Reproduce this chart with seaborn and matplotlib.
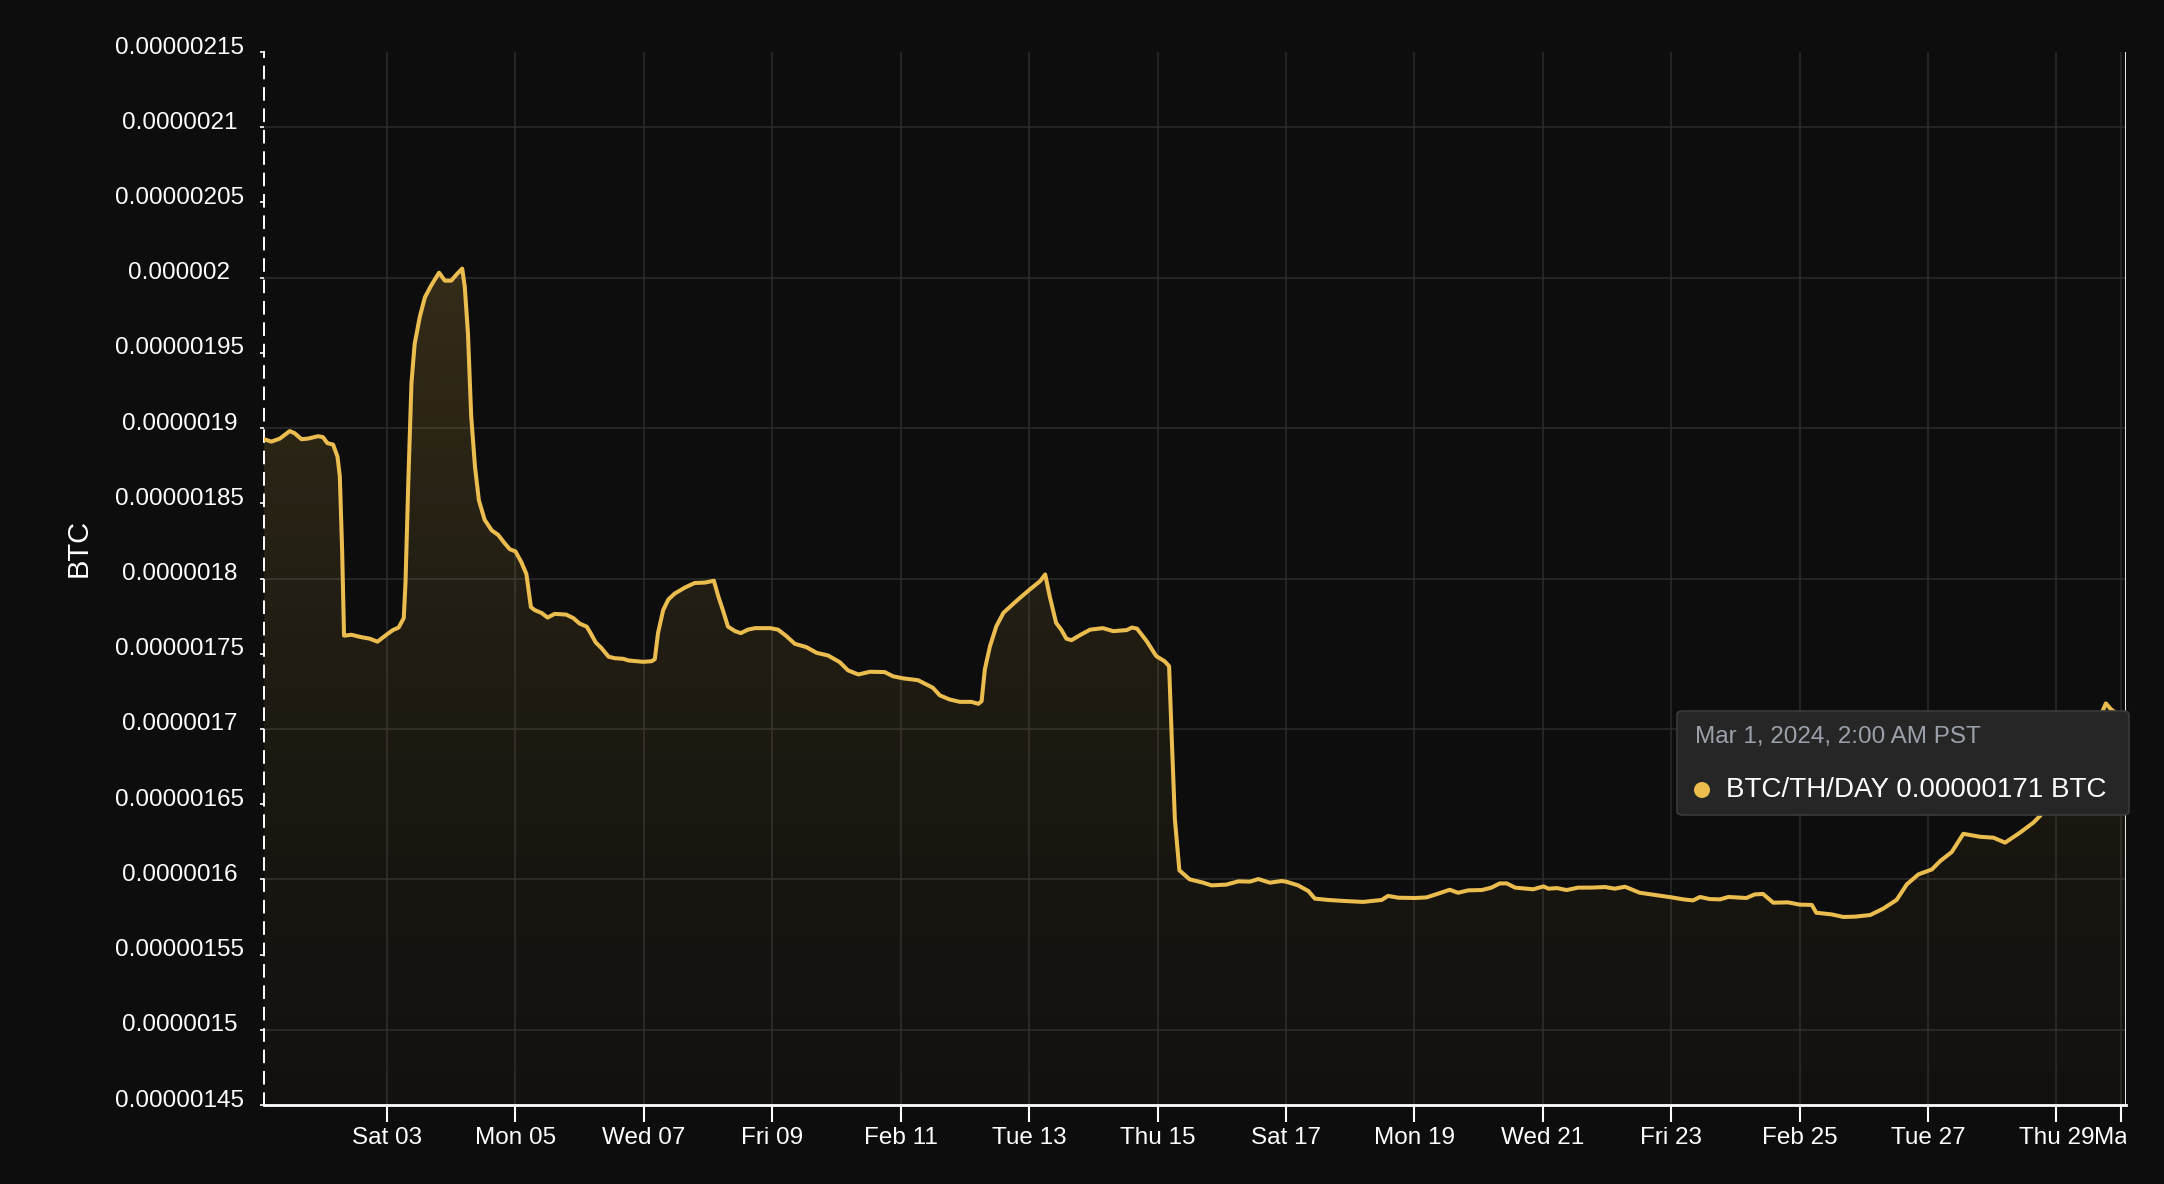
import numpy as np
import pandas as pd
import matplotlib
matplotlib.use("Agg")
import matplotlib.pyplot as plt
import matplotlib.dates as mdates
from matplotlib.colors import to_rgb
from matplotlib.patches import FancyBboxPatch, Ellipse
from matplotlib.transforms import ScaledTranslation, Bbox, TransformedBbox
import seaborn as sns

# Hashprice readings, days after Feb 1 2024 00:00 (PST)
day_offset = [
    0.083, 0.199, 0.33, 0.484, 0.56, 0.667, 0.77, 0.926, 1.0, 1.07, 1.16, 1.228, 1.264,
    1.30, 1.33, 1.445, 1.60, 1.73, 1.85, 1.99, 2.09, 2.18, 2.26, 2.287, 2.33, 2.38,
    2.43, 2.51, 2.59, 2.69, 2.81, 2.90, 3.0, 3.08, 3.17, 3.21, 3.26, 3.31, 3.37, 3.43,
    3.52, 3.63, 3.73, 3.83, 3.91, 4.0, 4.09, 4.17, 4.24, 4.30, 4.41, 4.50, 4.61, 4.79,
    4.90, 5.0, 5.11, 5.17, 5.25, 5.34, 5.45, 5.55, 5.68, 5.76, 5.99, 6.12, 6.17, 6.22,
    6.30, 6.38, 6.48, 6.64, 6.79, 6.95, 7.09, 7.16, 7.23, 7.31, 7.42, 7.51, 7.62, 7.73,
    7.86, 7.97, 8.09, 8.22, 8.35, 8.53, 8.69, 8.87, 9.05, 9.18, 9.34, 9.52, 9.75, 9.88,
    10.04, 10.27, 10.50, 10.61, 10.76, 10.92, 11.10, 11.21, 11.26, 11.31, 11.39, 11.49,
    11.60, 11.80, 12.01, 12.17, 12.25, 12.32, 12.42, 12.50, 12.58, 12.66, 12.79, 12.95,
    13.15, 13.31, 13.52, 13.60, 13.68, 13.83, 13.98, 14.11, 14.18, 14.22, 14.27, 14.34,
    14.50, 14.71, 14.84, 15.07, 15.26, 15.44, 15.57, 15.75, 15.93, 16.0, 16.19, 16.35,
    16.45, 16.66, 16.92, 17.20, 17.49, 17.59, 17.75, 18.01, 18.19, 18.37, 18.55, 18.68,
    18.84, 19.05, 19.20, 19.33, 19.44, 19.57, 19.85, 20.01, 20.09, 20.22, 20.37, 20.55,
    20.76, 20.97, 21.12, 21.28, 21.51, 21.75, 22.01, 22.19, 22.34, 22.45, 22.60, 22.76,
    22.89, 23.17, 23.30, 23.43, 23.59, 23.82, 24.0, 24.19, 24.26, 24.50, 24.68, 24.86,
    25.10, 25.30, 25.51, 25.67, 25.85, 26.06, 26.19, 26.37, 26.55, 26.81, 27.02, 27.20,
    27.43, 27.64, 27.74, 27.9, 28.1, 28.3, 28.5, 28.65, 28.77, 28.85, 28.95, 29.083,
]
# BTC per TH per day, in millionths of a BTC
btc_per_th = [
    1.8926, 1.891, 1.893, 1.898, 1.8966, 1.8926, 1.893, 1.8946, 1.894, 1.890, 1.889, 1.881, 1.868,
    1.819, 1.762, 1.7626, 1.761, 1.760, 1.758, 1.7626, 1.7657, 1.7674, 1.7737, 1.797, 1.863, 1.930,
    1.956, 1.974, 1.987, 1.995, 2.0033, 1.998, 1.998, 2.002, 2.006, 1.994, 1.963, 1.908, 1.874, 1.852,
    1.839, 1.832, 1.829, 1.8235, 1.8195, 1.818, 1.811, 1.803, 1.781, 1.779, 1.777, 1.774, 1.7765, 1.776,
    1.7737, 1.770, 1.768, 1.7637, 1.7575, 1.7537, 1.748, 1.747, 1.7466, 1.7455, 1.7446, 1.745, 1.7464, 1.7637,
    1.779, 1.786, 1.790, 1.794, 1.797, 1.7973, 1.7985, 1.788, 1.779, 1.768, 1.765, 1.7637, 1.766, 1.767,
    1.767, 1.767, 1.766, 1.7617, 1.7566, 1.7544, 1.7506, 1.7488, 1.7444, 1.7389, 1.7362, 1.738, 1.7378, 1.735,
    1.7336, 1.7324, 1.7274, 1.7223, 1.7196, 1.718, 1.718, 1.7167, 1.7185, 1.7395, 1.755, 1.7683,
    1.7772, 1.785, 1.7927, 1.7982, 1.8027, 1.7883, 1.7705, 1.766, 1.760, 1.759, 1.7623, 1.766,
    1.767, 1.765, 1.7657, 1.7674, 1.7667, 1.7584, 1.7484, 1.745, 1.7417, 1.6952, 1.6399, 1.606,
    1.600, 1.5978, 1.596, 1.5965, 1.5987, 1.5985, 1.6002, 1.5978, 1.5989, 1.5985, 1.596, 1.5922,
    1.5872, 1.5863, 1.5856, 1.585, 1.5863, 1.589, 1.5878, 1.5876, 1.588, 1.5905, 1.5931, 1.5911,
    1.5927, 1.5929, 1.5945, 1.5973, 1.5973, 1.5945, 1.5934, 1.5953, 1.5938, 1.5942, 1.5929, 1.5945,
    1.5945, 1.5949, 1.5938, 1.5951, 1.5911, 1.5896, 1.588, 1.5867, 1.586, 1.5883, 1.5869, 1.5867,
    1.5883, 1.5876, 1.59, 1.5903, 1.5845, 1.5847, 1.5832, 1.583, 1.5778, 1.5767, 1.575, 1.5752,
    1.5763, 1.5805, 1.5863, 1.5967, 1.6033, 1.6066, 1.6122, 1.6182, 1.6303, 1.6283, 1.6277, 1.6244,
    1.631, 1.6377, 1.642, 1.650, 1.662, 1.675, 1.690, 1.705, 1.717, 1.713, 1.710, 1.71,
]

xtick_dates = ["2024-02-03", "2024-02-05", "2024-02-07", "2024-02-09", "2024-02-11",
               "2024-02-13", "2024-02-15", "2024-02-17", "2024-02-19", "2024-02-21",
               "2024-02-23", "2024-02-25", "2024-02-27", "2024-02-29", "2024-03-01"]
xtick_labels = ["Sat 03", "Mon 05", "Wed 07", "Fri 09", "Feb 11", "Tue 13", "Thu 15",
                "Sat 17", "Mon 19", "Wed 21", "Fri 23", "Feb 25", "Tue 27", "Thu 29", "Mar"]
ytick_values = [1.45, 1.50, 1.55, 1.60, 1.65, 1.70, 1.75, 1.80, 1.85, 1.90, 1.95, 2.00,
                2.05, 2.10, 2.15]
ytick_labels = ["0.00000145", "0.0000015", "0.00000155", "0.0000016", "0.00000165",
                "0.0000017", "0.00000175", "0.0000018", "0.00000185", "0.0000019",
                "0.00000195", "0.000002", "0.00000205", "0.0000021", "0.00000215"]
ygrid_values = [1.5, 1.6, 1.7, 1.8, 1.9, 2.0, 2.1]

BG = "#0d0d0d"
LINE = "#ebbd4f"
GRID = "#2c2c2c"

start = pd.Timestamp("2024-02-01")
df = pd.DataFrame({
    "time": start + pd.to_timedelta(day_offset, unit="D"),
    "value": np.array(btc_per_th) * 1e-6,
})
x_start = start + pd.Timedelta(hours=2)
x_end = pd.Timestamp("2024-03-01 02:00")
y_lo, y_hi = 1.45e-6, 2.15e-6

sns.set_theme(style="dark", rc={"axes.facecolor": BG, "figure.facecolor": BG})
plt.rcParams["font.family"] = ["Liberation Sans", "DejaVu Sans"]

W, H = 2164, 1184
fig = plt.figure(figsize=(W / 100, H / 100), dpi=100, facecolor=BG)
ax = fig.add_axes([264 / W, 1 - 1105 / H, (2126 - 264) / W, (1105 - 52) / H])
ax.set_facecolor(BG)

# grid
for v in ygrid_values:
    ax.axhline(v * 1e-6, color=GRID, lw=1.1, zorder=0.5)
for d in xtick_dates:
    ax.axvline(pd.Timestamp(d), color=GRID, lw=1.1, zorder=0.5)

sns.lineplot(data=df, x="time", y="value", color=LINE, linewidth=2.9,
             estimator=None, ax=ax, zorder=3,
             solid_joinstyle="round", solid_capstyle="round")

# gradient fill under the line
x0, x1 = mdates.date2num([x_start, x_end])
top = df["value"].max()
t = np.linspace(0, 1, 256)
grad = np.zeros((256, 1, 4))
grad[..., :3] = to_rgb(LINE)
grad[..., 3] = (0.03 + 0.15 * t ** 1.5)[:, None]
im = ax.imshow(grad, extent=[x0, x1, y_lo, top], origin="lower", aspect="auto",
               zorder=2, interpolation="bilinear")
poly = ax.fill_between(df["time"], df["value"], y_lo, color="none", lw=0)
im.set_clip_path(poly.get_paths()[0], transform=ax.transData)

ax.set_xlim(x_start, x_end)
ax.set_ylim(y_lo, y_hi)

# crosshair at the hovered point
ax.axvline(x_end, color="white", lw=2, zorder=4)

# axes styling
for s in ["top", "right"]:
    ax.spines[s].set_visible(False)
ax.spines["left"].set_color("white")
ax.spines["left"].set_linewidth(1.4)
ax.spines["left"].set_linestyle((0, (6, 5)))
ax.spines["bottom"].set_color("white")
ax.spines["bottom"].set_linewidth(2)

ax.set_xticks([pd.Timestamp(d) for d in xtick_dates])
ax.set_xticklabels(xtick_labels)
ax.set_yticks([v * 1e-6 for v in ytick_values])
ax.set_yticklabels(ytick_labels)
ax.tick_params(axis="x", colors="white", length=12, width=1.5, pad=4,
               labelsize=17.5, bottom=True)
ax.tick_params(axis="y", colors="white", length=3, width=1.2, pad=58,
               labelsize=17.5, left=True)
shift = ScaledTranslation(0, 5 / 72, fig.dpi_scale_trans)
for lab in ax.get_yticklabels():
    lab.set_ha("center")
    lab.set_transform(lab.get_transform() + shift)
clip = TransformedBbox(Bbox([[-0.5, -0.5], [1.0, 1.5]]), ax.transAxes)
last = ax.get_xticklabels()[-1]
last.set_transform(last.get_transform() + ScaledTranslation(-4 / 72, 0, fig.dpi_scale_trans))
last.set_clip_box(clip)
last.set_clip_on(True)
ax.set_xlabel("")
ax.set_ylabel("")
fig.text(79 / W, 1 - 548 / H, "BTC", color="white", fontsize=21,
         rotation=90, ha="center", va="center")

# tooltip
bx0, by0, bx1, by1 = 1677, 711, 2129, 815
box = FancyBboxPatch((bx0 / W, 1 - by1 / H), (bx1 - bx0) / W, (by1 - by0) / H,
                     boxstyle="round,pad=0,rounding_size=0.003",
                     transform=fig.transFigure, facecolor="#262626",
                     edgecolor="#3a3a3a", lw=1.2, zorder=10)
fig.patches.append(box)
fig.text(1695 / W, 1 - 737 / H, "Mar 1, 2024, 2:00 AM PST", color="#9ba1ab",
         fontsize=17.5, ha="left", va="center", zorder=11)
dot = Ellipse((1702 / W, 1 - 790 / H), 16 / W, 16 / H, transform=fig.transFigure,
              facecolor=LINE, edgecolor="none", zorder=11)
fig.patches.append(dot)
fig.text(1726 / W, 1 - 790 / H, "BTC/TH/DAY 0.00000171 BTC", color="white",
         fontsize=20, ha="left", va="center", zorder=11)

fig.savefig("out.png", dpi=100, facecolor=BG)
